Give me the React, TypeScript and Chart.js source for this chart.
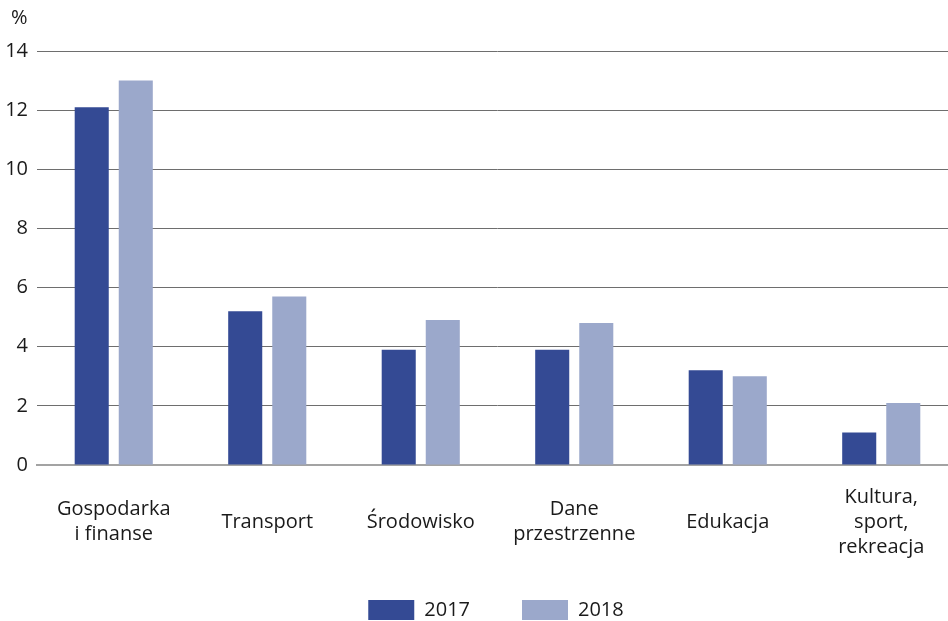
import React, { useEffect, useRef } from "react";
import { Chart, registerables } from "chart.js";

Chart.register(...registerables);

const categories: string[][] = [
  ["Gospodarka", "i finanse"],
  ["Transport"],
  ["Środowisko"],
  ["Dane", "przestrzenne"],
  ["Edukacja"],
  ["Kultura,", "sport,", "rekreacja"],
];
const values2017 = [12.1, 5.2, 3.9, 3.9, 3.2, 1.1];
const values2018 = [13.0, 5.7, 4.9, 4.8, 3.0, 2.1];
const seriesLabels = ["2017", "2018"];
const yUnit = "%";

const FONT = "'Open Sans', 'Noto Sans', sans-serif";
const TEXT = "#1a1a1a";
const LEGEND_PAD = 52;
const LEGEND_H = 17;

export default function App() {
  const ref = useRef<HTMLCanvasElement | null>(null);
  useEffect(() => {
    if (!ref.current) return;
    const helper = {
      id: "helper",
      beforeLayout(chart: any) {
        const lg = chart.legend;
        if (lg && !lg.__patched) {
          const orig = lg.fit;
          lg.fit = function () {
            orig.call(this);
            this.height = LEGEND_H;
          };
          lg.__patched = true;
        }
      },
      afterLayout(chart: any) {
        const lg = chart.legend;
        if (lg) {
          const dx = 17;
          lg.left += dx;
          lg.right += dx;
          lg.top = 600 - LEGEND_PAD;
          lg.bottom = chart.height + 20;
          lg.height = lg.bottom - lg.top;
        }
      },
      afterDraw(chart: any) {
        const ctx = chart.ctx;
        const y = chart.scales.y;
        ctx.save();
        ctx.fillStyle = TEXT;
        ctx.font = `20px ${FONT}`;
        ctx.textAlign = "left";
        ctx.textBaseline = "middle";
        ctx.fillText(yUnit, 11, y.top - 33);
        ctx.restore();
      },
    };
    const chart = new Chart(ref.current, {
      type: "bar",
      data: {
        labels: categories,
        datasets: [
          {
            label: seriesLabels[0],
            data: values2017,
            backgroundColor: "#344a94",
            categoryPercentage: 0.574,
            barPercentage: 0.773,
          },
          {
            label: seriesLabels[1],
            data: values2018,
            backgroundColor: "#9ba8cb",
            categoryPercentage: 0.574,
            barPercentage: 0.773,
          },
        ],
      },
      options: {
        animation: false,
        responsive: true,
        maintainAspectRatio: false,
        layout: { padding: { left: 0, top: 51, right: 0, bottom: 0 } },
        plugins: {
          tooltip: { enabled: false },
          legend: {
            position: "bottom",
            labels: {
              boxWidth: 46,
              boxHeight: 20,
              padding: LEGEND_PAD,
              color: TEXT,
              font: { family: FONT, size: 20 },
            },
          },
        },
        scales: {
          x: {
            grid: { display: false, drawTicks: false },
            border: { display: true, color: "#a3a3a3", width: 2 },
            ticks: {
              color: TEXT,
              font: { family: FONT, size: 20, lineHeight: 1.25 },
              padding: 32,
              crossAlign: "center",
              maxRotation: 0,
              autoSkip: false,
            },
          },
          y: {
            min: 0,
            max: 14,
            afterFit(scale: any) {
              scale.width = 37;
            },
            border: { display: false },
            grid: {
              color: (c: any) => (c.tick && c.tick.value === 0 ? "rgba(0,0,0,0)" : "#6e6e6e"),
              lineWidth: 1,
              drawTicks: false,
            },
            ticks: {
              stepSize: 2,
              padding: 9,
              color: TEXT,
              font: { family: FONT, size: 20 },
            },
          },
        },
      },
      plugins: [helper],
    } as any);
    return () => chart.destroy();
  }, []);
  return (
    <div style={{ position: "fixed", left: 0, top: 0, width: 958, height: 621 }}>
      <canvas ref={ref} />
    </div>
  );
}
